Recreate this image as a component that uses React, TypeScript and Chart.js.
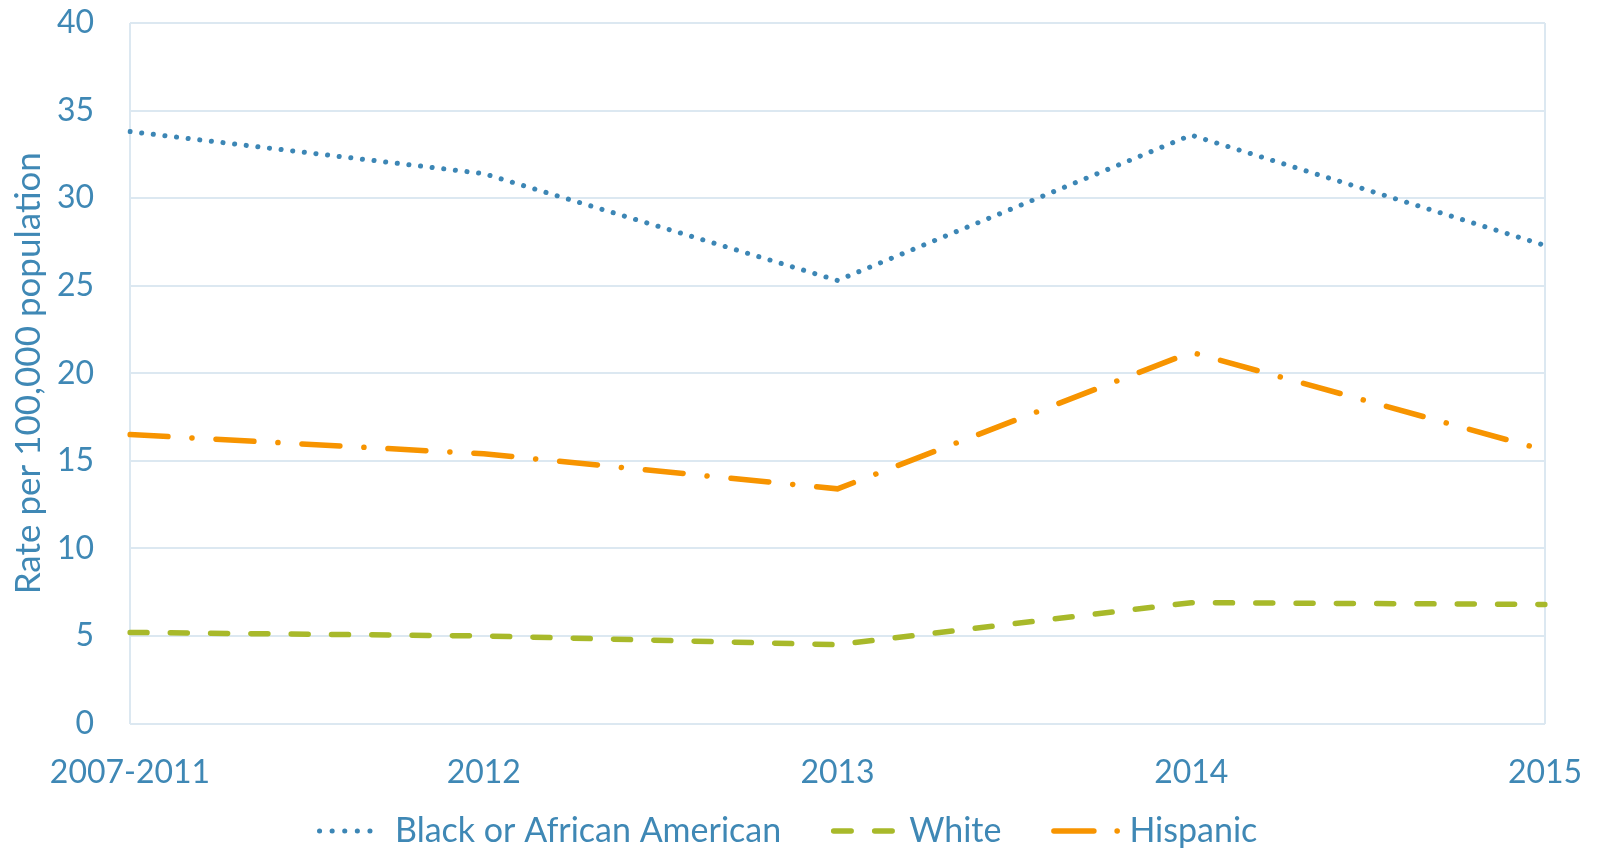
import React, { useEffect, useRef } from "react";
import { Chart, registerables } from "chart.js";

Chart.register(...registerables);

const categories = ["2007-2011", "2012", "2013", "2014", "2015"];
const blackValues = [33.8, 31.4, 25.3, 33.6, 27.3];
const whiteValues = [5.2, 5.0, 4.5, 6.9, 6.8];
const hispanicValues = [16.5, 15.4, 13.4, 21.2, 15.6];
const seriesNames = ["Black or African American", "White", "Hispanic"];
const yAxisTitle = "Rate per 100,000 population";

const TEXT = "#3f88b5";
const GRID = "#dce8f1";
const FONT = "Lato";

const legendSamples = [
  { dash: [0.1, 12.5], width: 5, pathLen: 63, color: "#3c86b5" },
  { dash: [17.5, 23.5], width: 5.5, pathLen: 58.5, color: "#a8b92a" },
  { dash: [40, 23.2, 0.1, 100], width: 5.5, pathLen: 63.4, color: "#f79400" },
];

const customLegend = {
  id: "customLegend",
  afterDraw(chart: any) {
    const ctx = chart.ctx;
    ctx.save();
    ctx.font = `34px ${FONT}`;
    ctx.textBaseline = "alphabetic";
    ctx.textAlign = "left";
    let x = 319.5;
    const yLine = 831;
    const yText = 842;
    seriesNames.forEach((name, i) => {
      const s = legendSamples[i];
      ctx.beginPath();
      ctx.strokeStyle = s.color;
      ctx.lineWidth = s.width;
      ctx.lineCap = "round";
      ctx.setLineDash(s.dash);
      ctx.moveTo(x, yLine);
      ctx.lineTo(x + s.pathLen, yLine);
      ctx.stroke();
      ctx.setLineDash([]);
      const tx = x + 75.5;
      ctx.fillStyle = TEXT;
      ctx.fillText(name, tx, yText);
      x = tx + ctx.measureText(name).width + 52.5;
    });
    ctx.restore();
  },
};

export default function App() {
  const ref = useRef<HTMLCanvasElement | null>(null);
  useEffect(() => {
    if (!ref.current) return;
    const chart = new Chart(ref.current, {
      type: "line",
      data: {
        labels: categories,
        datasets: [
          {
            label: seriesNames[0],
            data: blackValues,
            borderColor: "#3c86b5",
            borderWidth: 5,
            borderDash: [0.1, 11.6],
            borderCapStyle: "round",
            pointRadius: 0,
            tension: 0,
          },
          {
            label: seriesNames[1],
            data: whiteValues,
            borderColor: "#a8b92a",
            borderWidth: 5.5,
            borderDash: [17, 23.3],
            borderCapStyle: "round",
            pointRadius: 0,
            tension: 0,
          },
          {
            label: seriesNames[2],
            data: hispanicValues,
            borderColor: "#f79400",
            borderWidth: 5.5,
            borderDash: [38, 24, 0.1, 24],
            borderCapStyle: "round",
            pointRadius: 0,
            tension: 0,
          },
        ],
      },
      options: {
        animation: false,
        responsive: true,
        maintainAspectRatio: false,
        layout: { padding: { left: 0, right: 54, top: 23, bottom: 46.5 } },
        plugins: {
          tooltip: { enabled: false },
          legend: { display: false },
        },
        scales: {
          x: {
            offset: false,
            grid: {
              drawTicks: false,
              lineWidth: 2,
              color: (ctx: any) =>
                ctx.index === 0 || ctx.index === categories.length - 1 ? GRID : "rgba(0,0,0,0)",
            },
            border: { display: false },
            ticks: {
              color: TEXT,
              font: { family: FONT, size: 32 },
              padding: 30,
              maxRotation: 0,
              autoSkip: false,
            },
            afterFit: (axis: any) => {
              axis.height = 80;
              axis.paddingLeft = 0;
              axis.paddingRight = 0;
            },
          },
          y: {
            min: 0,
            max: 40,
            grid: { drawTicks: false, lineWidth: 2, color: GRID },
            border: { display: false },
            ticks: {
              stepSize: 5,
              color: TEXT,
              font: { family: FONT, size: 32 },
              padding: 36,
            },
            title: {
              display: true,
              text: yAxisTitle,
              color: TEXT,
              font: { family: FONT, size: 35 },
              padding: { top: 8, bottom: 0 },
            },
            afterFit: (axis: any) => {
              axis.width = 130;
              axis.paddingTop = 0;
              axis.paddingBottom = 0;
            },
          },
        },
      },
      plugins: [customLegend],
    });
    return () => chart.destroy();
  }, []);
  return (
    <div style={{ position: "fixed", left: 0, top: 0, width: 1599, height: 850, background: "#fff" }}>
      <canvas ref={ref} />
    </div>
  );
}
